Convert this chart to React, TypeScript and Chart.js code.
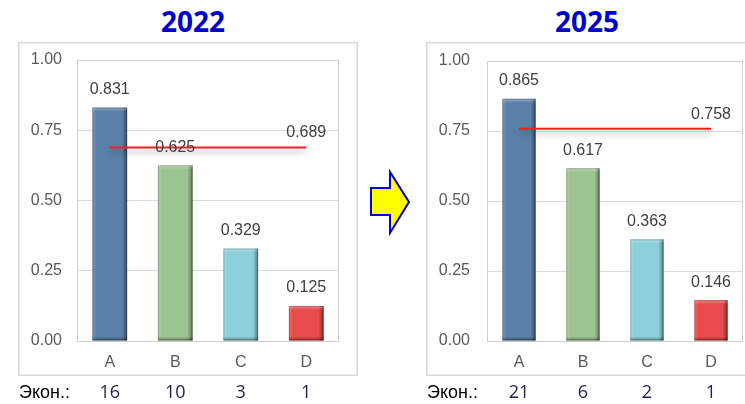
import React, { useEffect, useRef } from 'react';
import { Chart, registerables } from 'chart.js';

Chart.register(...registerables);

const categories = ['A', 'B', 'C', 'D'];
const values2022 = [0.831, 0.625, 0.329, 0.125];
const values2025 = [0.865, 0.617, 0.363, 0.146];
const average2022 = 0.689;
const average2025 = 0.758;
const econ2022 = [16, 10, 3, 1];
const econ2025 = [21, 6, 2, 1];
const yTicks = [0, 0.25, 0.5, 0.75, 1];
const econLabel = 'Экон.:';
const barColors = ['#5B80A8', '#9DC391', '#8BD0D8', '#E84B4B'];

const FONT = "'Liberation Sans', Arial, sans-serif";

type Geo = {
  left: number;
  top: number;
  width: number;
  height: number;
  yWidth: number;
  yPad: number;
  padRight: number;
  padTop: number;
  barPct: number;
  boxW: number;
};

const framePlugin = (geo: Geo) => ({
  id: 'frame',
  beforeDraw(chart: any) {
    const ctx = chart.ctx;
    ctx.save();
    ctx.fillStyle = '#ffffff';
    ctx.fillRect(0, 0, chart.width, chart.height);
    ctx.strokeStyle = '#D9D9D9';
    ctx.lineWidth = 1.5;
    ctx.strokeRect(0.75, 0.75, geo.boxW - 1.5, 332.5);
    ctx.restore();
  },
  beforeDatasetsDraw(chart: any) {
    const { ctx, chartArea: a } = chart;
    ctx.save();
    ctx.strokeStyle = '#D0D0D0';
    ctx.lineWidth = 1;
    ctx.strokeRect(a.left + 0.5, a.top + 0.5, a.right - a.left - 1, a.bottom - a.top);
    ctx.restore();
  },
});

const bevelPlugin = {
  id: 'bevel',
  beforeDatasetDraw(chart: any, args: any) {
    if (args.meta.type === 'line') {
      const ctx = chart.ctx;
      ctx.save();
      ctx.shadowColor = 'rgba(0,0,0,0.35)';
      ctx.shadowBlur = 6;
      ctx.shadowOffsetY = 4;
    }
  },
  afterDatasetDraw(chart: any, args: any) {
    const ctx = chart.ctx;
    if (args.meta.type === 'line') {
      ctx.restore();
      return;
    }
    if (args.meta.type !== 'bar') return;
    args.meta.data.forEach((el: any) => {
      const { x, y, base, width } = el.getProps(['x', 'y', 'base', 'width'], true);
      const l = x - width / 2;
      const r = x + width / 2;
      const t = Math.min(y, base);
      const b = Math.max(y, base);
      const h = b - t;
      ctx.save();
      let g = ctx.createLinearGradient(r - 5, 0, r, 0);
      g.addColorStop(0, 'rgba(0,0,0,0)');
      g.addColorStop(1, 'rgba(0,0,0,0.42)');
      ctx.fillStyle = g;
      ctx.fillRect(r - 5, t, 5, h);
      g = ctx.createLinearGradient(l, 0, l + 4, 0);
      g.addColorStop(0, 'rgba(255,255,255,0.22)');
      g.addColorStop(1, 'rgba(255,255,255,0)');
      ctx.fillStyle = g;
      ctx.fillRect(l, t, 4, h);
      g = ctx.createLinearGradient(0, t, 0, t + 4);
      g.addColorStop(0, 'rgba(255,255,255,0.35)');
      g.addColorStop(1, 'rgba(255,255,255,0)');
      ctx.fillStyle = g;
      ctx.fillRect(l, t, width, 4);
      g = ctx.createLinearGradient(0, b - 4, 0, b);
      g.addColorStop(0, 'rgba(0,0,0,0)');
      g.addColorStop(1, 'rgba(0,0,0,0.35)');
      ctx.fillStyle = g;
      ctx.fillRect(l, b - 4, width, 4);
      ctx.strokeStyle = 'rgba(0,0,0,0.22)';
      ctx.lineWidth = 1;
      ctx.strokeRect(l + 0.5, t + 0.5, width - 1, h - 1);
      ctx.restore();
    });
  },
};

const labelsPlugin = (econ: number[]) => ({
  id: 'labels',
  afterDraw(chart: any) {
    const ctx = chart.ctx;
    ctx.save();
    ctx.font = `16px ${FONT}`;
    ctx.fillStyle = '#404040';
    ctx.textAlign = 'center';
    ctx.textBaseline = 'middle';
    chart.data.datasets.forEach((ds: any, di: number) => {
      const meta = chart.getDatasetMeta(di);
      if (meta.type === 'bar') {
        meta.data.forEach((el: any, i: number) => {
          ctx.fillText(ds.data[i].toFixed(3), el.x, el.y - 18);
        });
      } else if (meta.type === 'line') {
        const last = meta.data[meta.data.length - 1];
        ctx.fillText(ds.data[ds.data.length - 1].toFixed(3), last.x, last.y - 14.5);
      }
    });
    const xs = chart.scales.x;
    const rowY = 351;
    ctx.textAlign = 'left';
    ctx.fillStyle = '#000000';
    ctx.font = `18px ${FONT}`;
    ctx.fillText(econLabel, 1, rowY);
    ctx.textAlign = 'center';
    ctx.fillStyle = '#1F2050';
    ctx.font = `18px 'Open Sans', ${FONT}`;
    econ.forEach((v, i) => {
      ctx.fillText(String(v), xs.getPixelForValue(i), rowY);
    });
    ctx.restore();
  },
});

function Panel({ values, average, econ, geo }: { values: number[]; average: number; econ: number[]; geo: Geo }) {
  const ref = useRef<HTMLCanvasElement>(null);
  useEffect(() => {
    if (!ref.current) return;
    const chart = new Chart(ref.current, {
      data: {
        labels: categories,
        datasets: [
          {
            type: 'line',
            data: categories.map(() => average),
            borderColor: '#FF1E1E',
            borderWidth: 2,
            pointRadius: 0,
            order: 0,
          } as any,
          {
            type: 'bar',
            data: values,
            backgroundColor: barColors,
            barPercentage: geo.barPct,
            categoryPercentage: 1,
            order: 1,
          } as any,
        ],
      },
      options: {
        animation: false,
        responsive: false,
        layout: { padding: { left: 0, right: geo.padRight, top: geo.padTop, bottom: geo.height - 299 - 35 } },
        plugins: { legend: { display: false }, tooltip: { enabled: false }, title: { display: false } },
        scales: {
          x: {
            grid: { display: false, drawTicks: false },
            border: { display: false },
            ticks: { color: '#595959', font: { family: FONT, size: 16 }, padding: 12 },
            afterFit: (s: any) => {
              s.height = 35;
              s.paddingLeft = 0;
              s.paddingRight = 0;
            },
          },
          y: {
            min: 0,
            max: 1,
            afterBuildTicks: (s: any) => {
              s.ticks = yTicks.map((v) => ({ value: v }));
            },
            grid: { color: '#D9D9D9', drawTicks: false },
            border: { display: false },
            ticks: {
              color: '#595959',
              font: { family: FONT, size: 16 },
              padding: geo.yPad,
              callback: (v: any) => Number(v).toFixed(2),
            },
            afterFit: (s: any) => {
              s.width = geo.yWidth;
              s.paddingTop = 0;
              s.paddingBottom = 0;
            },
          },
        },
      } as any,
      plugins: [framePlugin(geo), bevelPlugin, labelsPlugin(econ)],
    });
    return () => chart.destroy();
  }, []);
  return (
    <canvas
      ref={ref}
      width={geo.width}
      height={geo.height}
      style={{ position: 'absolute', left: geo.left, top: geo.top, width: geo.width, height: geo.height }}
    />
  );
}

const geoLeft: Geo = { left: 18, top: 42, width: 340, height: 362, yWidth: 59, yPad: 15, padRight: 19, padTop: 18, barPct: 0.53, boxW: 340 };
const geoRight: Geo = { left: 426, top: 42, width: 319, height: 362, yWidth: 61, yPad: 17, padRight: 2, padTop: 19, barPct: 0.52, boxW: 340 };

const titleStyle: React.CSSProperties = {
  position: 'absolute',
  top: 7,
  width: 200,
  textAlign: 'center',
  font: "700 28px 'Open Sans', sans-serif",
  lineHeight: '28px',
  color: '#0000CC',
};

export default function App() {
  return (
    <div style={{ position: 'absolute', left: 0, top: 0, width: 745, height: 404, overflow: 'hidden', background: '#fff' }}>
      <div style={{ ...titleStyle, left: 193 - 100 }}>2022</div>
      <div style={{ ...titleStyle, left: 587 - 100 }}>2025</div>
      <Panel values={values2022} average={average2022} econ={econ2022} geo={geoLeft} />
      <Panel values={values2025} average={average2025} econ={econ2025} geo={geoRight} />
      <svg width={745} height={404} style={{ position: 'absolute', left: 0, top: 0, pointerEvents: 'none' }}>
        <polygon
          points="371,188 390,188 390,172 409,202 390,233 390,215 371,215"
          fill="#FFFF00"
          stroke="#0000E0"
          strokeWidth={2}
          strokeLinejoin="miter"
        />
      </svg>
    </div>
  );
}
